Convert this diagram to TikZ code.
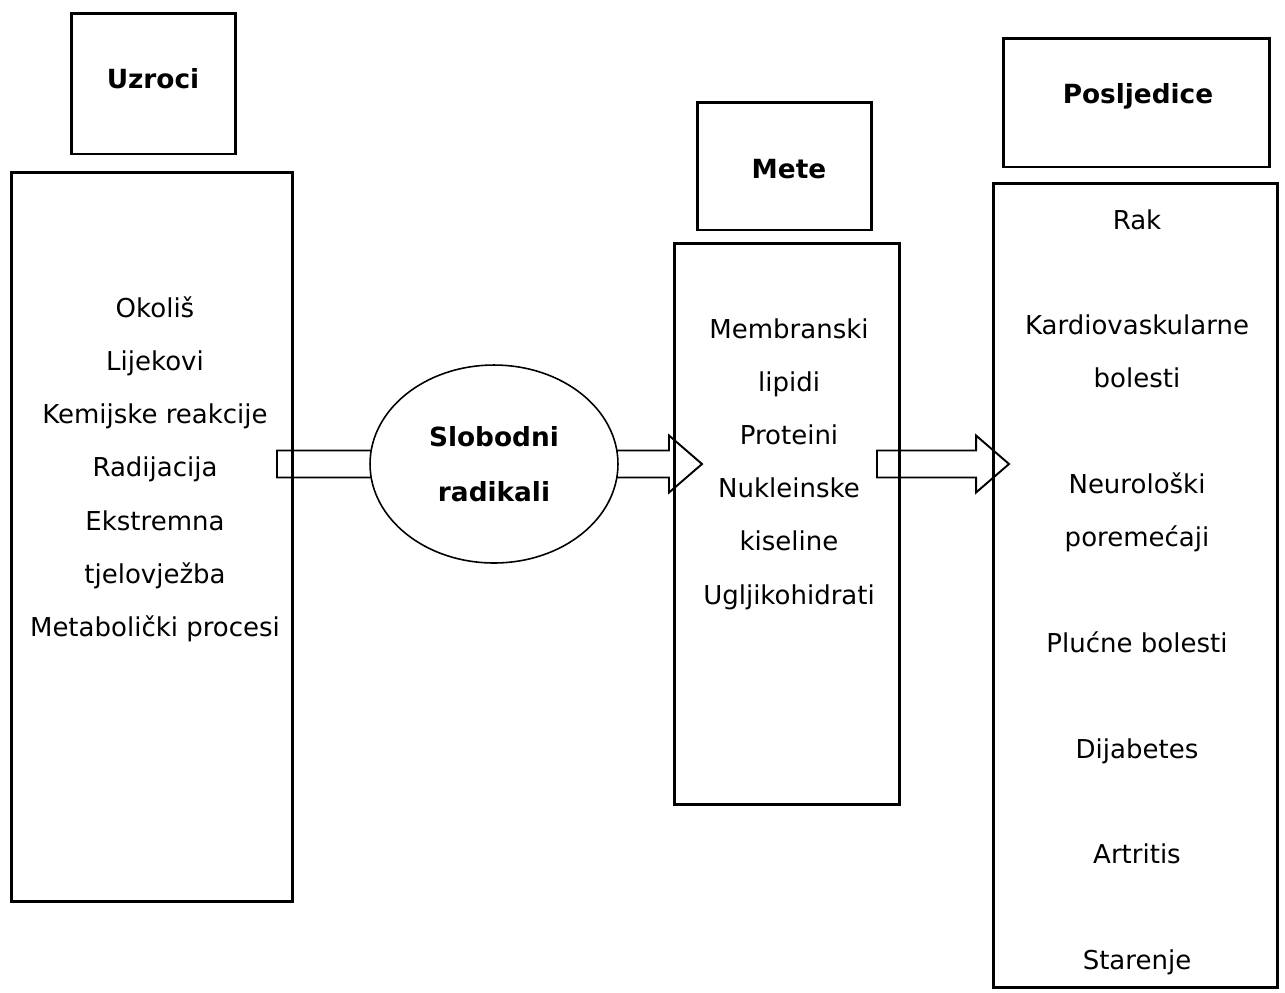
\documentclass[tikz,border=0pt]{standalone}
\usepackage{fontspec}
\setmainfont{DejaVu Sans}
\usetikzlibrary{shapes.geometric,positioning,calc,shadows}

\newcommand{\hollowarrow}[2]{%
  \draw[arrowline] ($(#1)+(0,-13.5)$) -- ($(#2)+(-33,-13.5)$) -- ($(#2)+(-33,-28.5)$) -- (#2)
    -- ($(#2)+(-33,28.5)$) -- ($(#2)+(-33,13.5)$) -- ($(#1)+(0,13.5)$) -- cycle;}

\begin{document}
\begin{tikzpicture}[x=0.02cm, y=-0.02cm,
    box/.style={draw, fill=white, line width=1.7pt, outer sep=0pt,
      drop shadow={shadow xshift=0.7pt, shadow yshift=-0.7pt, fill=black!35}},
    title/.style={anchor=base, font=\fontsize{15}{17}\selectfont\bfseries},
    item/.style={anchor=base, font=\fontsize{14.8}{17}\selectfont},
    arrowline/.style={line width=1.1pt, line join=miter},
    radical/.style={ellipse, draw, fill=white, line width=0.9pt, minimum width=4.96cm,
      minimum height=3.96cm, align=center, font=\fontsize{15}{31}\selectfont\bfseries}]
  \useasboundingbox (0,0) rectangle (1285,992);
  % uzroci
  \node[box, minimum width=3.3cm, minimum height=2.82cm] (causesHead) at (153.5,83.5) {};
  \node[box, minimum width=5.64cm, minimum height=14.6cm] (causesBox) at (152,537) {};
  % mete
  \node[box, minimum width=3.5cm, minimum height=2.56cm] (targetsHead) at (784.5,166) {};
  \node[box, minimum width=4.52cm, minimum height=11.24cm] (targetsBox) at (787,524) {};
  % posljedice
  \node[box, minimum width=5.34cm, minimum height=2.58cm] (effectsHead) at (1136.5,102.5) {};
  \node[box, minimum width=5.7cm, minimum height=16.1cm] (effectsBox) at (1135.5,585.5) {};
  % strelice
  \coordinate (radc) at (494,464);
  \coordinate (causesOut) at ($(causesBox.east |- radc)+(-16,0)$);
  \coordinate (targetsIn) at ($(targetsBox.west |- radc)+(28,0)$);
  \coordinate (targetsOut) at ($(targetsBox.east |- radc)+(-23,0)$);
  \coordinate (effectsIn) at ($(effectsBox.west |- radc)+(16,0)$);
  \hollowarrow{causesOut}{radc}
  \hollowarrow{radc}{targetsIn}
  \hollowarrow{targetsOut}{effectsIn}
  \node[radical] (radicals) at (radc) {Slobodni\\radikali};
  % tekst
  \node[title] (causesTitle) at (153,88) {Uzroci};
  \node[title] (targetsTitle) at (789,178) {Mete};
  \node[title] (effectsTitle) at (1138,103) {Posljedice};
  \foreach \t [count=\i from 0] in {Okoliš, Lijekovi, Kemijske reakcije, Radijacija, Ekstremna, tjelovježba, Metabolički procesi}
    \node[item] (cause\i) at (155,{317+53.3*\i}) {\t};
  \foreach \t [count=\i from 0] in {Membranski, lipidi, Proteini, Nukleinske, kiseline, Ugljikohidrati}
    \node[item] (target\i) at (789,{338+53.2*\i}) {\t};
  \foreach \k/\t in {0/Rak, 2/Kardiovaskularne, 3/bolesti, 5/Neurološki, 6/poremećaji, 8/Plućne bolesti, 10/Dijabetes, 12/Artritis, 14/Starenje}
    \node[item] (effect\k) at (1137,{229+52.9*\k}) {\t};
\end{tikzpicture}
\end{document}
